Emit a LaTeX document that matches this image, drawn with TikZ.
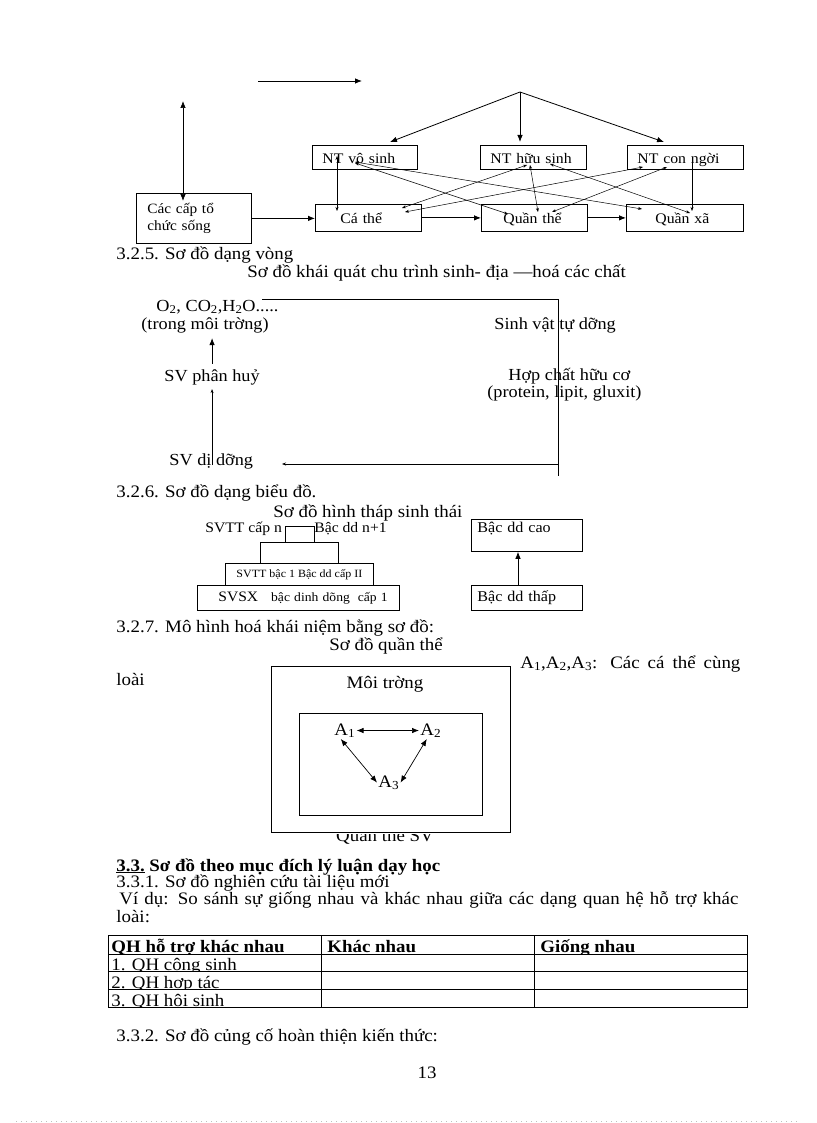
\documentclass[tikz,border=0pt]{standalone}
\usepackage{fontspec}
\setmainfont[FakeStretch=1.08]{Liberation Serif}
\usetikzlibrary{arrows.meta,calc}
\newcommand\setfs[1]{\fontsize{#1}{#1}\selectfont}
\begin{document}
\begin{tikzpicture}[x=1pt,y=-1pt,line width=0.8pt,
  txt/.style={inner sep=0pt, anchor=base west, font=\setfs{17.5}},
  cyc/.style={txt, font=\setfs{16.9}},
  box/.style={draw, inner sep=0pt, anchor=north west, align=left},
  ntbox/.style={box, font=\setfs{14.6}, text height=18pt, text depth=6pt},
  lvbox/.style={box, font=\setfs{14.6}, text height=19pt, text depth=8pt},
  big/.style={-{Latex[length=7pt,width=5.5pt]}, line width=0.8pt},
  dbl/.style={{Latex[length=7pt,width=5.5pt]}-{Latex[length=7pt,width=5.5pt]}, line width=0.7pt},
  thin/.style={{Stealth[length=4pt,width=3pt]}-{Stealth[length=4pt,width=3pt]}, line width=0.5pt},
  thinone/.style={-{Stealth[length=4pt,width=3pt]}, line width=0.5pt},
]
\useasboundingbox (0,0) rectangle (816,1123);
\fill[white] (0,0) rectangle (816,1123);

% ---------- top diagram ----------
\node[box, text width=115pt, minimum height=50pt, font=\fontsize{14.2}{17}\selectfont] (caps) at (136,193) {\hspace*{11pt}Các cấp tổ\\\hspace*{11pt}chức sống};
\node[ntbox, text width=105pt] (vs) at (312,145) {\hspace*{10pt}NT vô sinh};
\node[ntbox, text width=106pt] (hs) at (480,145) {\hspace*{10pt}NT hữu sinh};
\node[ntbox, text width=116pt] (cn) at (627,145) {\hspace*{10pt}NT con ngời};
\node[lvbox, text width=106pt] (ct) at (315,204) {\hspace*{25pt}Cá thể};
\node[lvbox, text width=106pt] (qt) at (481,204) {\hspace*{22pt}Quần thể};
\node[lvbox, text width=117pt] (qx) at (626,204) {\hspace*{29pt}Quần xã};

\coordinate (ta1) at (258,81);
\coordinate (ta2) at (362,81);
\draw[big] (ta1) -- (ta2);
\coordinate (apex) at (520,92);
\draw[big] (apex) -- ($(vs.north west)+(78,-3)$);
\draw[big] (apex) -- ($(hs.north west)+(40,-3)$);
\draw[big] (apex) -- ($(cn.north west)+(37,-3)$);
\coordinate (vt) at (183,101);
\draw[dbl] (vt) -- ($(caps.north west)+(47,8)$);
\draw[big] (caps.east) -- (caps.east -| ct.west);
\draw[big] (ct.east) -- (qt.west);
\draw[big] (qt.east) -- (qx.west);

\draw[thin] ($(vs.north west)+(25,11)$) -- ($(ct.north west)+(22,7)$);
\draw[thin] ($(vs.north west)+(43,17)$) -- ($(qx.north west)+(16,5)$);
\draw[thin] ($(vs.north west)+(43,18)$) -- ($(qt.north west)+(27,10)$);
\draw[thin] ($(hs.north west)+(47,20)$) -- ($(ct.north west)+(87,4)$);
\draw[thin] ($(hs.north west)+(50,20)$) -- ($(qt.north west)+(57,8)$);
\draw[thin] ($(hs.north west)+(70,19)$) -- ($(qx.north west)+(64,9)$);
\draw[thin] ($(cn.north west)+(16,22)$) -- ($(ct.north west)+(90,8)$);
\draw[thin] ($(cn.north west)+(40,22)$) -- ($(qt.north west)+(71,8)$);
\draw[thinone] ($(cn.north west)+(65,18)$) -- ($(qx.north west)+(66,7)$);

% ---------- 3.2.5 cycle ----------
\node[txt] (h325) at (116,259) {3.2.5. Sơ đồ dạng vòng};
\node[txt] (t325) at (247,277) {Sơ đồ khái quát chu trình sinh- địa —hoá các chất};
\node[cyc] (env1) at (156,311) {O\textsubscript{2}, CO\textsubscript{2},H\textsubscript{2}O.....};
\node[cyc] (env2) at (141,329) {(trong môi trờng)};
\node[cyc] (tu) at (494,329) {Sinh vật tự dỡng};
\node[cyc] (ph) at (164,381) {SV phân huỷ};
\node[cyc] (hc1) at (508,380) {Hợp chất hữu cơ};
\node[cyc] (hc2) at (487,397) {(protein, lipit, gluxit)};
\node[cyc] (dd) at (169,465) {SV dị dỡng};

\coordinate (l1) at (262,299);
\coordinate (l2) at (558,299);
\coordinate (l3) at (558,476);
\draw[line width=0.7pt] (l1) -- (l2) -- (l3);
\coordinate (l4) at (558,464);
\coordinate (l5) at (282,464);
\draw[thinone, line width=0.7pt] (l4) -- (l5);
\draw[big] ($(ph.north)+(0,-5)$) -- ($(env2.south -| ph.north)+(0,5)$);
\draw[thinone, line width=0.7pt] ($(ph.south)+(0,80)$) -- ($(ph.south)+(0,4)$);

% ---------- 3.2.6 pyramid ----------
\node[txt] (h326) at (116,497) {3.2.6. Sơ đồ dạng biểu đồ.};
\node[txt] (t326) at (273,517) {Sơ đồ hình tháp sinh thái};
\node[box, minimum width=29pt, minimum height=16pt] (p1) at (285,526) {};
\node[box, minimum width=78pt, minimum height=21pt] (p2) at (260,542) {};
\node[box, minimum width=148pt, minimum height=22pt, align=center, font=\setfs{11.1}] (p3) at (225,563) {SVTT bậc 1 Bậc dd cấp II};
\node[box, text width=202pt, minimum height=25pt, font=\setfs{12.6}] (p4) at (197,585) {\hspace*{21pt}{\setfs{14.4}SVSX}\hspace{13pt}bậc dinh dõng\hspace{8pt}cấp 1};
\node[txt, font=\setfs{14.5}] (sn) at (205,532) {SVTT cấp n};
\node[txt, font=\setfs{14.5}] (bn) at (314,532) {Bậc dd n+1};
\node[box, text width=111pt, font=\setfs{14.9}, text height=13pt, text depth=19pt] (bc) at (471,519) {\hspace*{6pt}Bậc dd cao};
\node[box, text width=111pt, minimum height=25pt, font=\setfs{14.9}] (bt) at (471,585) {\hspace*{6pt}Bậc dd thấp};
\draw[big] ($(bt.north west)+(47,0)$) -- ($(bc.south west)+(47,0)$);

% ---------- 3.2.7 population ----------
\node[txt] (h327) at (116,632) {3.2.7. Mô hình hoá khái niệm bằng sơ đồ:};
\node[txt] (t327) at (329,650) {Sơ đồ quần thể};
\node[txt] (leg) at (520,668) {\makebox[220pt][s]{A\textsubscript{1},A\textsubscript{2},A\textsubscript{3}: Các cá thể cùng}};
\node[txt] (loai) at (116,685) {loài};
\node[box, minimum width=239pt, minimum height=166pt] (outer) at (271,666) {};
\node[box, minimum width=183pt, minimum height=102pt] (inner) at (299,713) {};
\node[txt, anchor=base] (mt) at (385,688) {Môi trờng};
\node[txt, inner sep=1pt] (a1) at (333,735) {A\textsubscript{1}};
\node[txt, inner sep=1pt] (a2) at (419,735) {A\textsubscript{2}};
\node[txt, inner sep=1pt] (a3) at (377,787) {A\textsubscript{3}};
\draw[dbl] (a1.east) -- (a2.west);
\draw[dbl] ($(a1.south)+(-4,0)$) -- (a3.west);
\draw[dbl] ($(a2.south)+(-4,0)$) -- (a3.east);
\begin{scope}
  \clip (300,834) rectangle (470,860);
  \node[txt, anchor=base] (qsv) at (385,841) {Quần thể SV};
\end{scope}

% ---------- 3.3 ----------
\node[txt, font=\setfs{17.5}\bfseries] (h33) at (116,871) {\underline{3.3.} Sơ đồ theo mục đích lý luận dạy học};
\node[txt] (h331) at (116,887) {3.3.1. Sơ đồ nghiên cứu tài liệu mới};
\node[txt] (vd) at (119,904) {\makebox[619pt][s]{Ví dụ: So sánh sự giống nhau và khác nhau giữa các dạng quan hệ hỗ trợ khác}};
\node[txt] (loai2) at (116,922) {loài:};

\draw[line width=0.9pt] (108,935) rectangle (747,1007);
\draw (108,954) -- (747,954);
\draw (108,971) -- (747,971);
\draw (108,989) -- (747,989);
\draw (321,935) -- (321,1007);
\draw (534,935) -- (534,1007);
\begin{scope}
  \clip (108,935) rectangle (747,954);
  \node[txt, font=\setfs{17.5}\bfseries] (th1) at (111,952.5) {QH hỗ trợ khác nhau};
  \node[txt, font=\setfs{17.5}\bfseries] (th2) at (327,952.5) {Khác nhau};
  \node[txt, font=\setfs{17.5}\bfseries] (th3) at (540,952.5) {Giống nhau};
\end{scope}
\begin{scope}
  \clip (108,954) rectangle (747,971);
  \node[txt] (r1) at (111,970.5) {1. QH cộng sinh};
\end{scope}
\begin{scope}
  \clip (108,971) rectangle (747,989);
  \node[txt] (r2) at (111,988.5) {2. QH hợp tác};
\end{scope}
\begin{scope}
  \clip (108,989) rectangle (747,1007);
  \node[txt] (r3) at (111,1006.5) {3. QH hội sinh};
\end{scope}

\node[txt] (h332) at (116,1041) {3.3.2. Sơ đồ củng cố hoàn thiện kiến thức:};
\node[txt, anchor=base] (pg) at (427,1078) {13};

\draw[gray!50, line width=0.6pt, dash pattern=on 1pt off 4pt] (16,1121) -- (800,1121);
\end{tikzpicture}
\end{document}
